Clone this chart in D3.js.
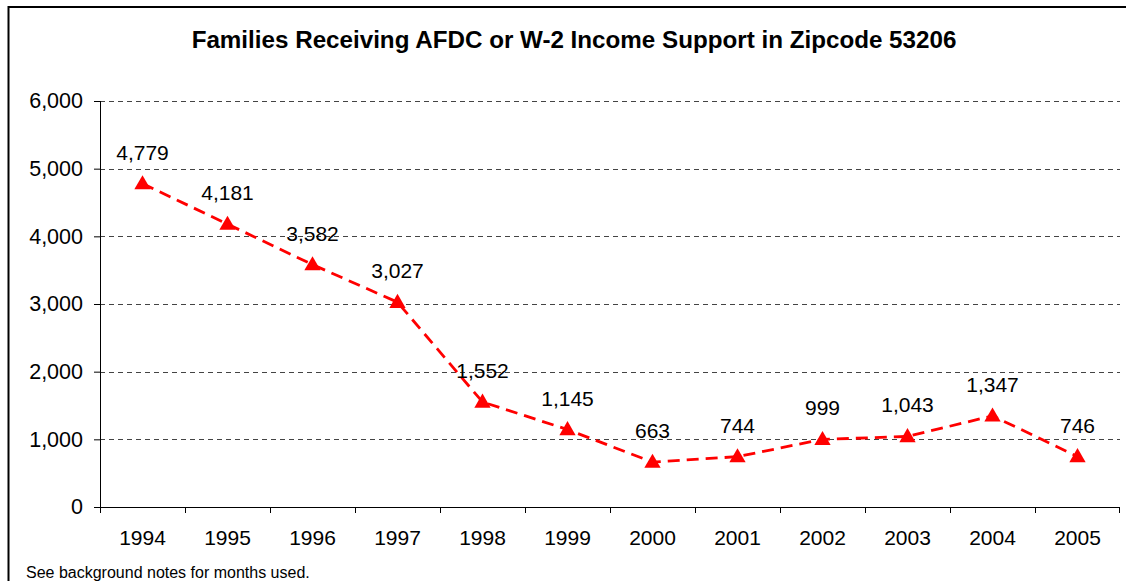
<!DOCTYPE html>
<html>
<head>
<meta charset="utf-8">
<script src="https://cdn.jsdelivr.net/npm/d3@7"></script>
<style>
body { margin: 0; background: #fff; }
text { font-family: Arial, "Liberation Sans", sans-serif; }
</style>
</head>
<body>
<div id="chart"></div>
<script>
// data
let years = ["1994", "1995", "1996", "1997", "1998", "1999", "2000", "2001", "2002", "2003", "2004", "2005"];
let families = [4779, 4181, 3582, 3027, 1552, 1145, 663, 744, 999, 1043, 1347, 746];
let yTicks = [0, 1000, 2000, 3000, 4000, 5000, 6000];

let boxWidth = 1126;
let boxHeight = 581;

let margin = {top: 101, right: 6, bottom: 74, left: 100};
let width = boxWidth - margin.left - margin.right;
let height = boxHeight - margin.top - margin.bottom;

let svg = d3.select("#chart")
    .append("svg")
    .attr("width", boxWidth)
    .attr("height", boxHeight);

// outer frame (only top and left visible)
svg.append("rect")
    .attr("x", 8.5)
    .attr("y", 7)
    .attr("width", 1200)
    .attr("height", 700)
    .attr("fill", "none")
    .attr("stroke", "#000")
    .attr("stroke-width", 2);

svg.append("text")
    .attr("x", 574)
    .attr("y", 48)
    .attr("text-anchor", "middle")
    .attr("font-size", "24.2px")
    .attr("font-weight", "bold")
    .text("Families Receiving AFDC or W-2 Income Support in Zipcode 53206");

svg.append("text")
    .attr("x", 26)
    .attr("y", 578)
    .attr("font-size", "16px")
    .text("See background notes for months used.");

let plotGroup = svg.append("g")
    .attr("transform", `translate(${margin.left}, ${margin.top})`);

let xScale = d3.scaleBand()
    .domain(years)
    .range([0, width]);

let yScale = d3.scaleLinear()
    .domain([0, 6000])
    .range([height, 0]);

// dashed gridlines
plotGroup.append("g")
    .selectAll("line")
    .data(yTicks.filter(d => d > 0))
    .enter()
    .append("line")
    .attr("x1", 0)
    .attr("x2", width)
    .attr("y1", d => Math.round(yScale(d)) + 0.5)
    .attr("y2", d => Math.round(yScale(d)) + 0.5)
    .attr("stroke", "#444")
    .attr("stroke-width", 1)
    .attr("stroke-dasharray", "5,4");

// y axis
let yAxis = d3.axisLeft(yScale)
    .tickValues(yTicks)
    .tickSize(6)
    .tickPadding(11)
    .tickFormat(d3.format(","));

let yG = plotGroup.append("g").call(yAxis);
yG.selectAll("text").attr("font-size", "21.5px").attr("fill", "#000");
yG.selectAll("line").attr("stroke", "#000");
yG.select(".domain").attr("stroke", "#000").attr("d", `M0.5,${height}V0`);

// x axis with ticks at band edges
let xG = plotGroup.append("g")
    .attr("transform", `translate(0, ${height})`);

xG.append("line")
    .attr("x1", 0)
    .attr("x2", width)
    .attr("y1", 0.5)
    .attr("y2", 0.5)
    .attr("stroke", "#000");

xG.selectAll(".xtick")
    .data(years)
    .enter()
    .append("line")
    .attr("class", "xtick")
    .attr("x1", d => Math.round(xScale(d)) + 0.5)
    .attr("x2", d => Math.round(xScale(d)) + 0.5)
    .attr("y1", 0)
    .attr("y2", 6)
    .attr("stroke", "#000");

xG.append("line")
    .attr("x1", width - 0.5)
    .attr("x2", width - 0.5)
    .attr("y1", 0)
    .attr("y2", 6)
    .attr("stroke", "#000");

xG.selectAll(".xlabel")
    .data(years)
    .enter()
    .append("text")
    .attr("class", "xlabel")
    .attr("x", d => xScale(d) + xScale.bandwidth() / 2)
    .attr("y", 38)
    .attr("text-anchor", "middle")
    .attr("font-size", "21px")
    .text(d => d);

let points = years.map((y, i) => ({year: y, value: families[i]}));

let line = d3.line()
    .x(d => xScale(d.year) + xScale.bandwidth() / 2)
    .y(d => yScale(d.value));

plotGroup.append("path")
    .datum(points)
    .attr("d", line)
    .attr("fill", "none")
    .attr("stroke", "#ff0000")
    .attr("stroke-width", 2.8)
    .attr("stroke-dasharray", "12,7");

let tri = d3.symbol().type(d3.symbolTriangle).size(115);

plotGroup.selectAll(".marker")
    .data(points)
    .enter()
    .append("path")
    .attr("class", "marker")
    .attr("d", tri)
    .attr("transform", d => `translate(${xScale(d.year) + xScale.bandwidth() / 2}, ${yScale(d.value) + 1})`)
    .attr("fill", "#ff0000");

plotGroup.selectAll(".vlabel")
    .data(points)
    .enter()
    .append("text")
    .attr("class", "vlabel")
    .attr("x", d => xScale(d.year) + xScale.bandwidth() / 2)
    .attr("y", d => yScale(d.value) - 24)
    .attr("text-anchor", "middle")
    .attr("font-size", "21px")
    .text(d => d3.format(",")(d.value));
</script>
</body>
</html>
